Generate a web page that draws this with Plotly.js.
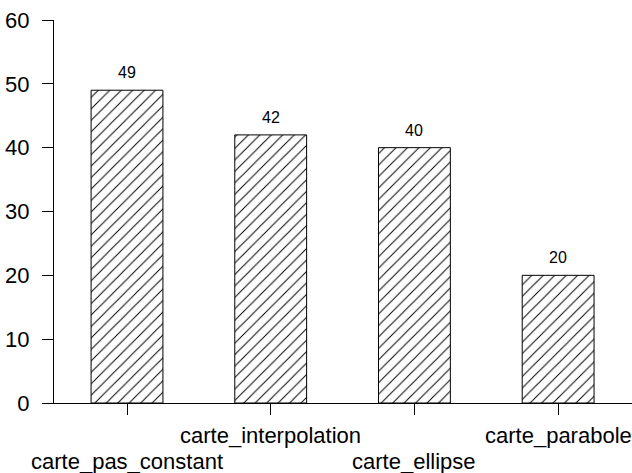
<!DOCTYPE html>
<html>
<head>
<meta charset="utf-8">
<script src="https://cdn.plot.ly/plotly-3.0.1.min.js"></script>
<style>html,body{margin:0;padding:0;background:#fff;}#chart{width:632px;height:473px;}</style>
</head>
<body>
<div id="chart"></div>
<script>
const categories = ["carte_pas_constant", "carte_interpolation", "carte_ellipse", "carte_parabole"];
const values = [49, 42, 40, 20];
const labelRow = [1, 0, 1, 0];
const yTicks = [0, 10, 20, 30, 40, 50, 60];

const FONT = "Liberation Sans, Arial, Helvetica, sans-serif";
const idx = categories.map((c, i) => i);

const trace = {
  type: "bar",
  x: idx,
  y: values,
  width: 0.5,
  marker: {
    color: "#ffffff",
    line: {color: "#000000", width: 1},
    pattern: {shape: "/", fgcolor: "#000000", bgcolor: "#ffffff", size: 8.1, solidity: 0.12, fillmode: "replace"}
  },
  hoverinfo: "none"
};

const annotations = [];
values.forEach((v, i) => {
  annotations.push({
    x: i, y: v, xref: "x", yref: "y", text: String(v), showarrow: false,
    yanchor: "bottom", yshift: 7, font: {family: FONT, size: 16, color: "#000"}
  });
});
categories.forEach((c, i) => {
  annotations.push({
    x: i, y: 0, xref: "x", yref: "paper", text: c, showarrow: false,
    yanchor: "top", yshift: -18 - labelRow[i] * 26, font: {family: FONT, size: 22, color: "#000"}
  });
});

const layout = {
  width: 632, height: 473,
  margin: {l: 54, r: 0, t: 20, b: 70, pad: 0},
  paper_bgcolor: "#fff", plot_bgcolor: "#fff",
  showlegend: false,
  font: {family: FONT, color: "#000"},
  xaxis: {
    range: [-0.508, 3.514], tickvals: idx, ticktext: categories.map(() => ""),
    showline: true, linecolor: "#000", linewidth: 1, ticks: "outside", ticklen: 11, tickcolor: "#000",
    showgrid: false, zeroline: false, fixedrange: true
  },
  yaxis: {
    range: [0, 60], tickvals: yTicks, showline: true, linecolor: "#000", linewidth: 1,
    ticks: "outside", ticklen: 11, tickcolor: "#000", ticklabelstandoff: 8,
    tickfont: {family: FONT, size: 22, color: "#000"}, showgrid: false, zeroline: false, fixedrange: true
  },
  annotations: annotations
};

Plotly.newPlot("chart", [trace], layout, {displayModeBar: false, staticPlot: true});
</script>
</body>
</html>
